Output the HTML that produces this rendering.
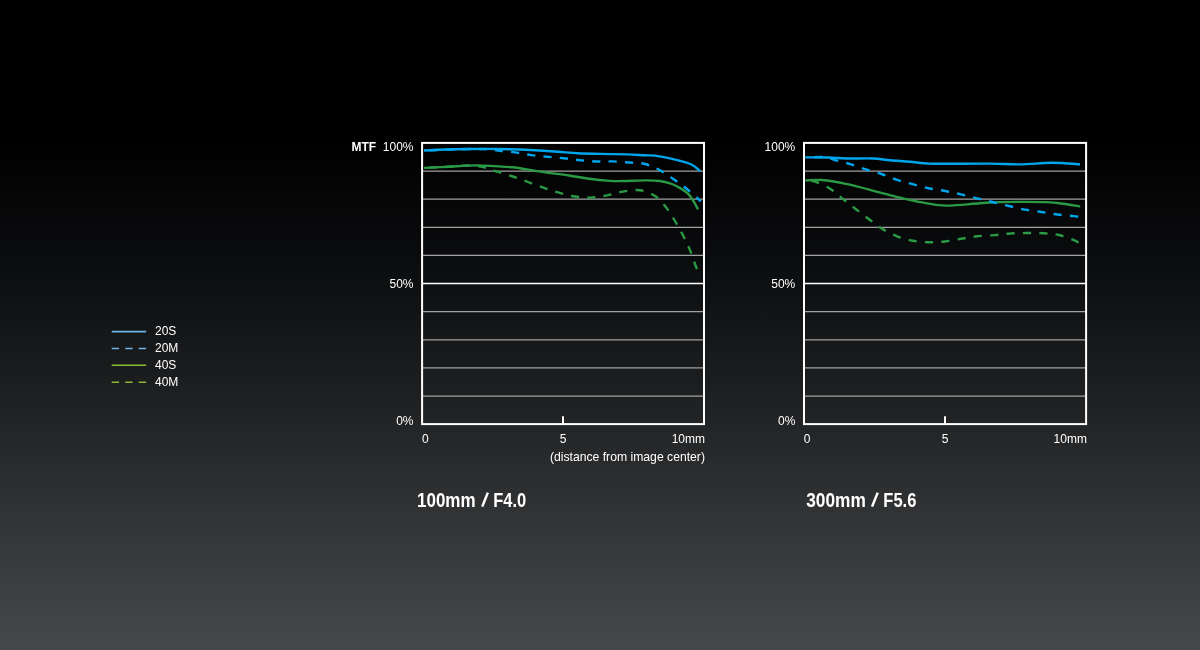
<!DOCTYPE html>
<html><head><meta charset="utf-8"><style>
html,body{margin:0;padding:0;width:1200px;height:650px;overflow:hidden;}
body{background:linear-gradient(to bottom,#000 0px,#000 140px,#0b0c0e 260px,#1c1d1f 380px,#313234 510px,#47484b 650px);}
svg{position:absolute;left:0;top:0;will-change:transform;}
.t{font-family:"Liberation Sans",sans-serif;font-size:12px;fill:#fff;}
.b{font-weight:bold;fill:#fff;}
.h{font-family:"Liberation Sans",sans-serif;font-size:20px;font-weight:bold;fill:#fff;}
</style></head><body>
<svg width="1200" height="650" viewBox="0 0 1200 650">
<line x1="422.1" y1="171.07" x2="704.0" y2="171.07" stroke="#a2a2a2" stroke-width="1.25"/>
<line x1="422.1" y1="199.20" x2="704.0" y2="199.20" stroke="#a2a2a2" stroke-width="1.25"/>
<line x1="422.1" y1="227.32" x2="704.0" y2="227.32" stroke="#a2a2a2" stroke-width="1.25"/>
<line x1="422.1" y1="255.45" x2="704.0" y2="255.45" stroke="#a2a2a2" stroke-width="1.25"/>
<line x1="422.1" y1="283.57" x2="704.0" y2="283.57" stroke="#fff" stroke-width="1.4"/>
<line x1="422.1" y1="311.70" x2="704.0" y2="311.70" stroke="#a2a2a2" stroke-width="1.25"/>
<line x1="422.1" y1="339.82" x2="704.0" y2="339.82" stroke="#a2a2a2" stroke-width="1.25"/>
<line x1="422.1" y1="367.95" x2="704.0" y2="367.95" stroke="#a2a2a2" stroke-width="1.25"/>
<line x1="422.1" y1="396.07" x2="704.0" y2="396.07" stroke="#a2a2a2" stroke-width="1.25"/>
<rect x="422.1" y="142.9" width="281.9" height="281.2" fill="none" stroke="#fff" stroke-width="2"/>
<line x1="563.0" y1="416.2" x2="563.0" y2="424.2" stroke="#fff" stroke-width="2"/>
<line x1="804.0" y1="171.07" x2="1086.1" y2="171.07" stroke="#a2a2a2" stroke-width="1.25"/>
<line x1="804.0" y1="199.20" x2="1086.1" y2="199.20" stroke="#a2a2a2" stroke-width="1.25"/>
<line x1="804.0" y1="227.32" x2="1086.1" y2="227.32" stroke="#a2a2a2" stroke-width="1.25"/>
<line x1="804.0" y1="255.45" x2="1086.1" y2="255.45" stroke="#a2a2a2" stroke-width="1.25"/>
<line x1="804.0" y1="283.57" x2="1086.1" y2="283.57" stroke="#fff" stroke-width="1.4"/>
<line x1="804.0" y1="311.70" x2="1086.1" y2="311.70" stroke="#a2a2a2" stroke-width="1.25"/>
<line x1="804.0" y1="339.82" x2="1086.1" y2="339.82" stroke="#a2a2a2" stroke-width="1.25"/>
<line x1="804.0" y1="367.95" x2="1086.1" y2="367.95" stroke="#a2a2a2" stroke-width="1.25"/>
<line x1="804.0" y1="396.07" x2="1086.1" y2="396.07" stroke="#a2a2a2" stroke-width="1.25"/>
<rect x="804.0" y="142.9" width="282.1" height="281.2" fill="none" stroke="#fff" stroke-width="2"/>
<line x1="945.0" y1="416.2" x2="945.0" y2="424.2" stroke="#fff" stroke-width="2"/>
<path d="M424.0 167.9 C428.0 167.7 440.3 167.2 448.0 166.8 C455.7 166.4 463.8 165.4 470.0 165.5 C476.2 165.6 480.5 166.5 485.0 167.5 C489.5 168.5 492.3 170.1 497.0 171.6 C501.7 173.1 507.8 174.8 513.0 176.5 C518.2 178.2 522.8 180.1 528.0 182.0 C533.2 183.9 538.8 186.1 544.0 187.9 C549.2 189.7 553.8 191.3 559.0 192.7 C564.2 194.1 569.7 195.7 575.0 196.5 C580.3 197.3 585.7 197.8 591.0 197.6 C596.3 197.4 601.7 196.4 607.0 195.4 C612.3 194.4 617.5 192.5 623.0 191.6 C628.5 190.7 634.7 189.5 640.0 190.2 C645.3 190.9 650.7 193.2 655.0 196.0 C659.3 198.8 662.7 203.0 666.0 207.2 C669.3 211.4 672.2 216.3 675.0 221.0 C677.8 225.7 680.5 230.5 683.0 235.3 C685.5 240.2 687.9 245.1 690.0 250.1 C692.1 255.1 694.3 262.4 695.5 265.5 C696.7 268.6 696.8 268.4 697.0 269.0" fill="none" stroke="#2a9a45" stroke-width="2.4" stroke-linecap="butt" stroke-linejoin="round" stroke-dasharray="8.155 8.155" stroke-dashoffset="11.28"/>
<path d="M424.0 167.9 C428.0 167.7 439.2 167.2 448.0 166.8 C456.8 166.4 466.3 165.3 477.0 165.4 C487.7 165.5 504.8 166.8 512.0 167.3 C519.2 167.8 515.0 167.4 520.0 168.2 C525.0 169.0 533.8 170.7 542.0 171.9 C550.2 173.1 561.2 174.3 569.0 175.5 C576.8 176.7 582.2 177.9 589.0 178.8 C595.8 179.7 604.3 180.5 610.0 180.9 C615.7 181.3 617.0 181.1 623.0 181.0 C629.0 180.9 639.8 180.4 646.0 180.4 C652.2 180.4 655.7 180.4 660.0 181.0 C664.3 181.6 668.5 182.7 672.0 184.0 C675.5 185.3 678.3 187.0 681.0 188.6 C683.7 190.2 685.9 191.6 688.0 193.7 C690.1 195.8 691.8 198.6 693.5 201.2 C695.2 203.8 697.2 208.0 698.0 209.3" fill="none" stroke="#2a9a45" stroke-width="2.4" stroke-linecap="butt" stroke-linejoin="round"/>
<path d="M424.0 150.5 C431.7 150.2 459.0 149.2 470.0 149.0 C481.0 148.8 485.0 149.2 490.0 149.5 C495.0 149.8 495.8 150.3 500.0 150.8 C504.2 151.3 509.8 151.7 515.0 152.4 C520.2 153.1 525.7 154.4 531.0 155.1 C536.3 155.8 541.6 156.2 547.0 156.7 C552.4 157.2 558.0 157.7 563.5 158.3 C569.0 158.9 574.6 159.7 580.0 160.2 C585.4 160.7 590.6 161.3 596.0 161.5 C601.4 161.7 607.0 161.2 612.5 161.4 C618.0 161.6 623.6 162.1 629.0 162.5 C634.4 162.9 639.8 162.7 645.0 164.0 C650.2 165.3 655.2 167.7 660.0 170.3 C664.8 172.9 669.5 176.4 674.0 179.5 C678.5 182.6 682.5 185.4 687.0 189.0 C691.5 192.6 698.5 199.2 700.8 201.3" fill="none" stroke="#00a6ec" stroke-width="2.4" stroke-linecap="butt" stroke-linejoin="round" stroke-dasharray="8.172 8.172" stroke-dashoffset="10.77"/>
<path d="M424.0 150.5 C427.5 150.3 437.3 149.8 445.0 149.5 C452.7 149.2 460.8 149.1 470.0 149.0 C479.2 148.9 490.0 148.8 500.0 149.0 C510.0 149.2 520.3 149.5 530.0 150.0 C539.7 150.5 550.0 151.2 558.0 151.8 C566.0 152.4 571.0 153.0 578.0 153.3 C585.0 153.7 591.8 153.7 600.0 153.9 C608.2 154.1 619.5 154.2 627.0 154.4 C634.5 154.6 640.3 155.1 645.0 155.3 C649.7 155.5 650.8 155.1 655.0 155.6 C659.2 156.1 665.2 157.3 670.0 158.3 C674.8 159.3 680.3 160.7 684.0 161.8 C687.7 162.9 689.3 163.3 692.0 164.8 C694.7 166.3 698.8 170.0 700.2 171.0" fill="none" stroke="#00a6ec" stroke-width="2.4" stroke-linecap="butt" stroke-linejoin="round"/>
<path d="M805.4 180.5 C807.0 180.7 810.8 180.1 815.0 181.5 C819.2 182.9 825.7 186.0 830.4 188.9 C835.1 191.8 838.7 195.7 843.0 199.1 C847.3 202.5 851.7 205.8 856.0 209.2 C860.3 212.5 864.6 215.9 869.0 219.2 C873.4 222.5 877.6 226.1 882.3 228.9 C887.0 231.8 892.0 234.3 897.0 236.3 C902.0 238.3 907.3 239.7 912.6 240.7 C917.9 241.7 923.3 242.2 928.7 242.3 C934.1 242.4 939.5 242.1 945.0 241.5 C950.5 240.9 956.2 239.6 961.5 238.7 C966.8 237.8 971.5 236.9 977.0 236.3 C982.5 235.7 988.9 235.6 994.5 235.1 C1000.1 234.6 1005.2 233.8 1010.6 233.5 C1016.0 233.2 1021.4 233.1 1026.8 233.0 C1032.2 232.9 1037.6 232.9 1043.0 233.2 C1048.4 233.5 1053.7 233.8 1059.0 235.0 C1064.3 236.2 1071.8 239.4 1075.0 240.7 C1078.2 242.0 1077.9 242.4 1078.5 242.7" fill="none" stroke="#2a9a45" stroke-width="2.4" stroke-linecap="butt" stroke-linejoin="round" stroke-dasharray="8.211 8.211" stroke-dashoffset="10.41"/>
<path d="M805.4 180.5 C808.1 180.4 814.3 179.4 821.5 180.0 C828.7 180.6 839.4 182.4 848.4 184.3 C857.4 186.2 868.5 189.5 875.4 191.3 C882.3 193.1 885.9 194.0 890.0 195.1 C894.1 196.2 894.6 196.5 900.0 197.7 C905.4 198.9 914.5 201.1 922.3 202.4 C930.0 203.7 936.9 205.5 946.5 205.6 C956.1 205.7 970.9 203.8 980.0 203.2 C989.1 202.6 990.2 202.3 1001.0 202.1 C1011.8 201.9 1035.2 201.9 1044.6 202.1 C1054.0 202.2 1051.6 202.3 1057.5 203.0 C1063.4 203.7 1076.4 205.8 1080.2 206.4" fill="none" stroke="#2a9a45" stroke-width="2.4" stroke-linecap="butt" stroke-linejoin="round"/>
<path d="M805.4 157.4 C808.8 157.4 821.2 156.8 826.0 157.2 C830.8 157.6 830.0 158.7 834.0 159.8 C838.0 161.0 844.7 162.5 850.0 164.1 C855.3 165.7 860.8 167.8 866.0 169.4 C871.2 171.1 876.4 172.3 881.5 174.0 C886.6 175.7 891.3 178.0 896.5 179.7 C901.7 181.4 907.2 182.8 912.6 184.2 C918.0 185.6 923.3 187.1 928.7 188.2 C934.1 189.3 939.6 190.0 945.0 191.0 C950.4 192.0 955.7 193.1 961.0 194.3 C966.3 195.5 971.8 197.0 977.0 198.3 C982.2 199.6 987.2 200.7 992.5 202.0 C997.8 203.3 1003.6 204.7 1009.0 206.0 C1014.4 207.3 1019.6 208.6 1025.0 209.6 C1030.4 210.6 1036.0 211.2 1041.4 212.0 C1046.8 212.8 1052.1 213.8 1057.5 214.5 C1062.9 215.2 1070.5 215.7 1074.0 216.1 C1077.5 216.5 1077.8 216.8 1078.5 216.9" fill="none" stroke="#00a6ec" stroke-width="2.4" stroke-linecap="butt" stroke-linejoin="round" stroke-dasharray="8.229 8.229" stroke-dashoffset="7.70"/>
<path d="M805.4 157.4 C809.3 157.4 822.2 157.3 829.0 157.5 C835.8 157.7 838.7 158.3 846.0 158.5 C853.3 158.7 865.7 158.2 873.0 158.5 C880.3 158.8 883.8 159.8 890.0 160.3 C896.2 160.9 903.5 161.2 910.0 161.8 C916.5 162.4 923.2 163.3 929.0 163.6 C934.8 163.9 934.8 163.8 945.0 163.8 C955.2 163.8 977.5 163.5 990.0 163.6 C1002.5 163.7 1009.7 164.5 1020.0 164.4 C1030.3 164.3 1042.0 162.8 1052.0 162.8 C1062.0 162.8 1075.3 164.1 1080.0 164.4" fill="none" stroke="#00a6ec" stroke-width="2.4" stroke-linecap="butt" stroke-linejoin="round"/>
<line x1="111.7" y1="331.6" x2="146.2" y2="331.6" stroke="#6ab4e6" stroke-width="1.6"/>
<text x="155" y="335.0" class="t">20S</text>
<line x1="111.7" y1="348.5" x2="146.2" y2="348.5" stroke="#6ab4e6" stroke-width="1.6" stroke-dasharray="7.4 6.1"/>
<text x="155" y="351.9" class="t">20M</text>
<line x1="111.7" y1="365.3" x2="146.2" y2="365.3" stroke="#8cb838" stroke-width="1.6"/>
<text x="155" y="368.7" class="t">40S</text>
<line x1="111.7" y1="382.2" x2="146.2" y2="382.2" stroke="#8cb838" stroke-width="1.6" stroke-dasharray="7.4 6.1"/>
<text x="155" y="385.6" class="t">40M</text>
<text x="351.5" y="151.2" class="t b">MTF</text>
<text x="413.5" y="151.2" class="t" text-anchor="end">100%</text>
<text x="413.5" y="288.0" class="t" text-anchor="end">50%</text>
<text x="413.5" y="425.0" class="t" text-anchor="end">0%</text>
<text x="795.3" y="151.2" class="t" text-anchor="end">100%</text>
<text x="795.3" y="288.0" class="t" text-anchor="end">50%</text>
<text x="795.3" y="425.0" class="t" text-anchor="end">0%</text>
<text x="421.9" y="443.2" class="t">0</text>
<text x="563.0" y="443.2" class="t" text-anchor="middle">5</text>
<text x="705.0" y="443.2" class="t" text-anchor="end">10mm</text>
<text x="803.8" y="443.2" class="t">0</text>
<text x="945.0" y="443.2" class="t" text-anchor="middle">5</text>
<text x="1086.9" y="443.2" class="t" text-anchor="end">10mm</text>
<text x="705" y="460.8" class="t" style="font-size:12.2px" text-anchor="end">(distance from image center)</text>
<text x="0" y="0" class="h" transform="translate(417.00 507) scale(0.850 1)">100mm</text>
<text x="0" y="0" class="h" transform="translate(493.20 507) scale(0.825 1)">F4.0</text>
<text x="0" y="0" class="h" transform="translate(806.20 507) scale(0.865 1)">300mm</text>
<text x="0" y="0" class="h" transform="translate(883.30 507) scale(0.825 1)">F5.6</text>
<line x1="482.25" y1="506.6" x2="487.85" y2="492.6" stroke="#fff" stroke-width="2.50"/>
<line x1="872.05" y1="506.6" x2="877.75" y2="492.6" stroke="#fff" stroke-width="2.50"/>
</svg>
</body></html>
